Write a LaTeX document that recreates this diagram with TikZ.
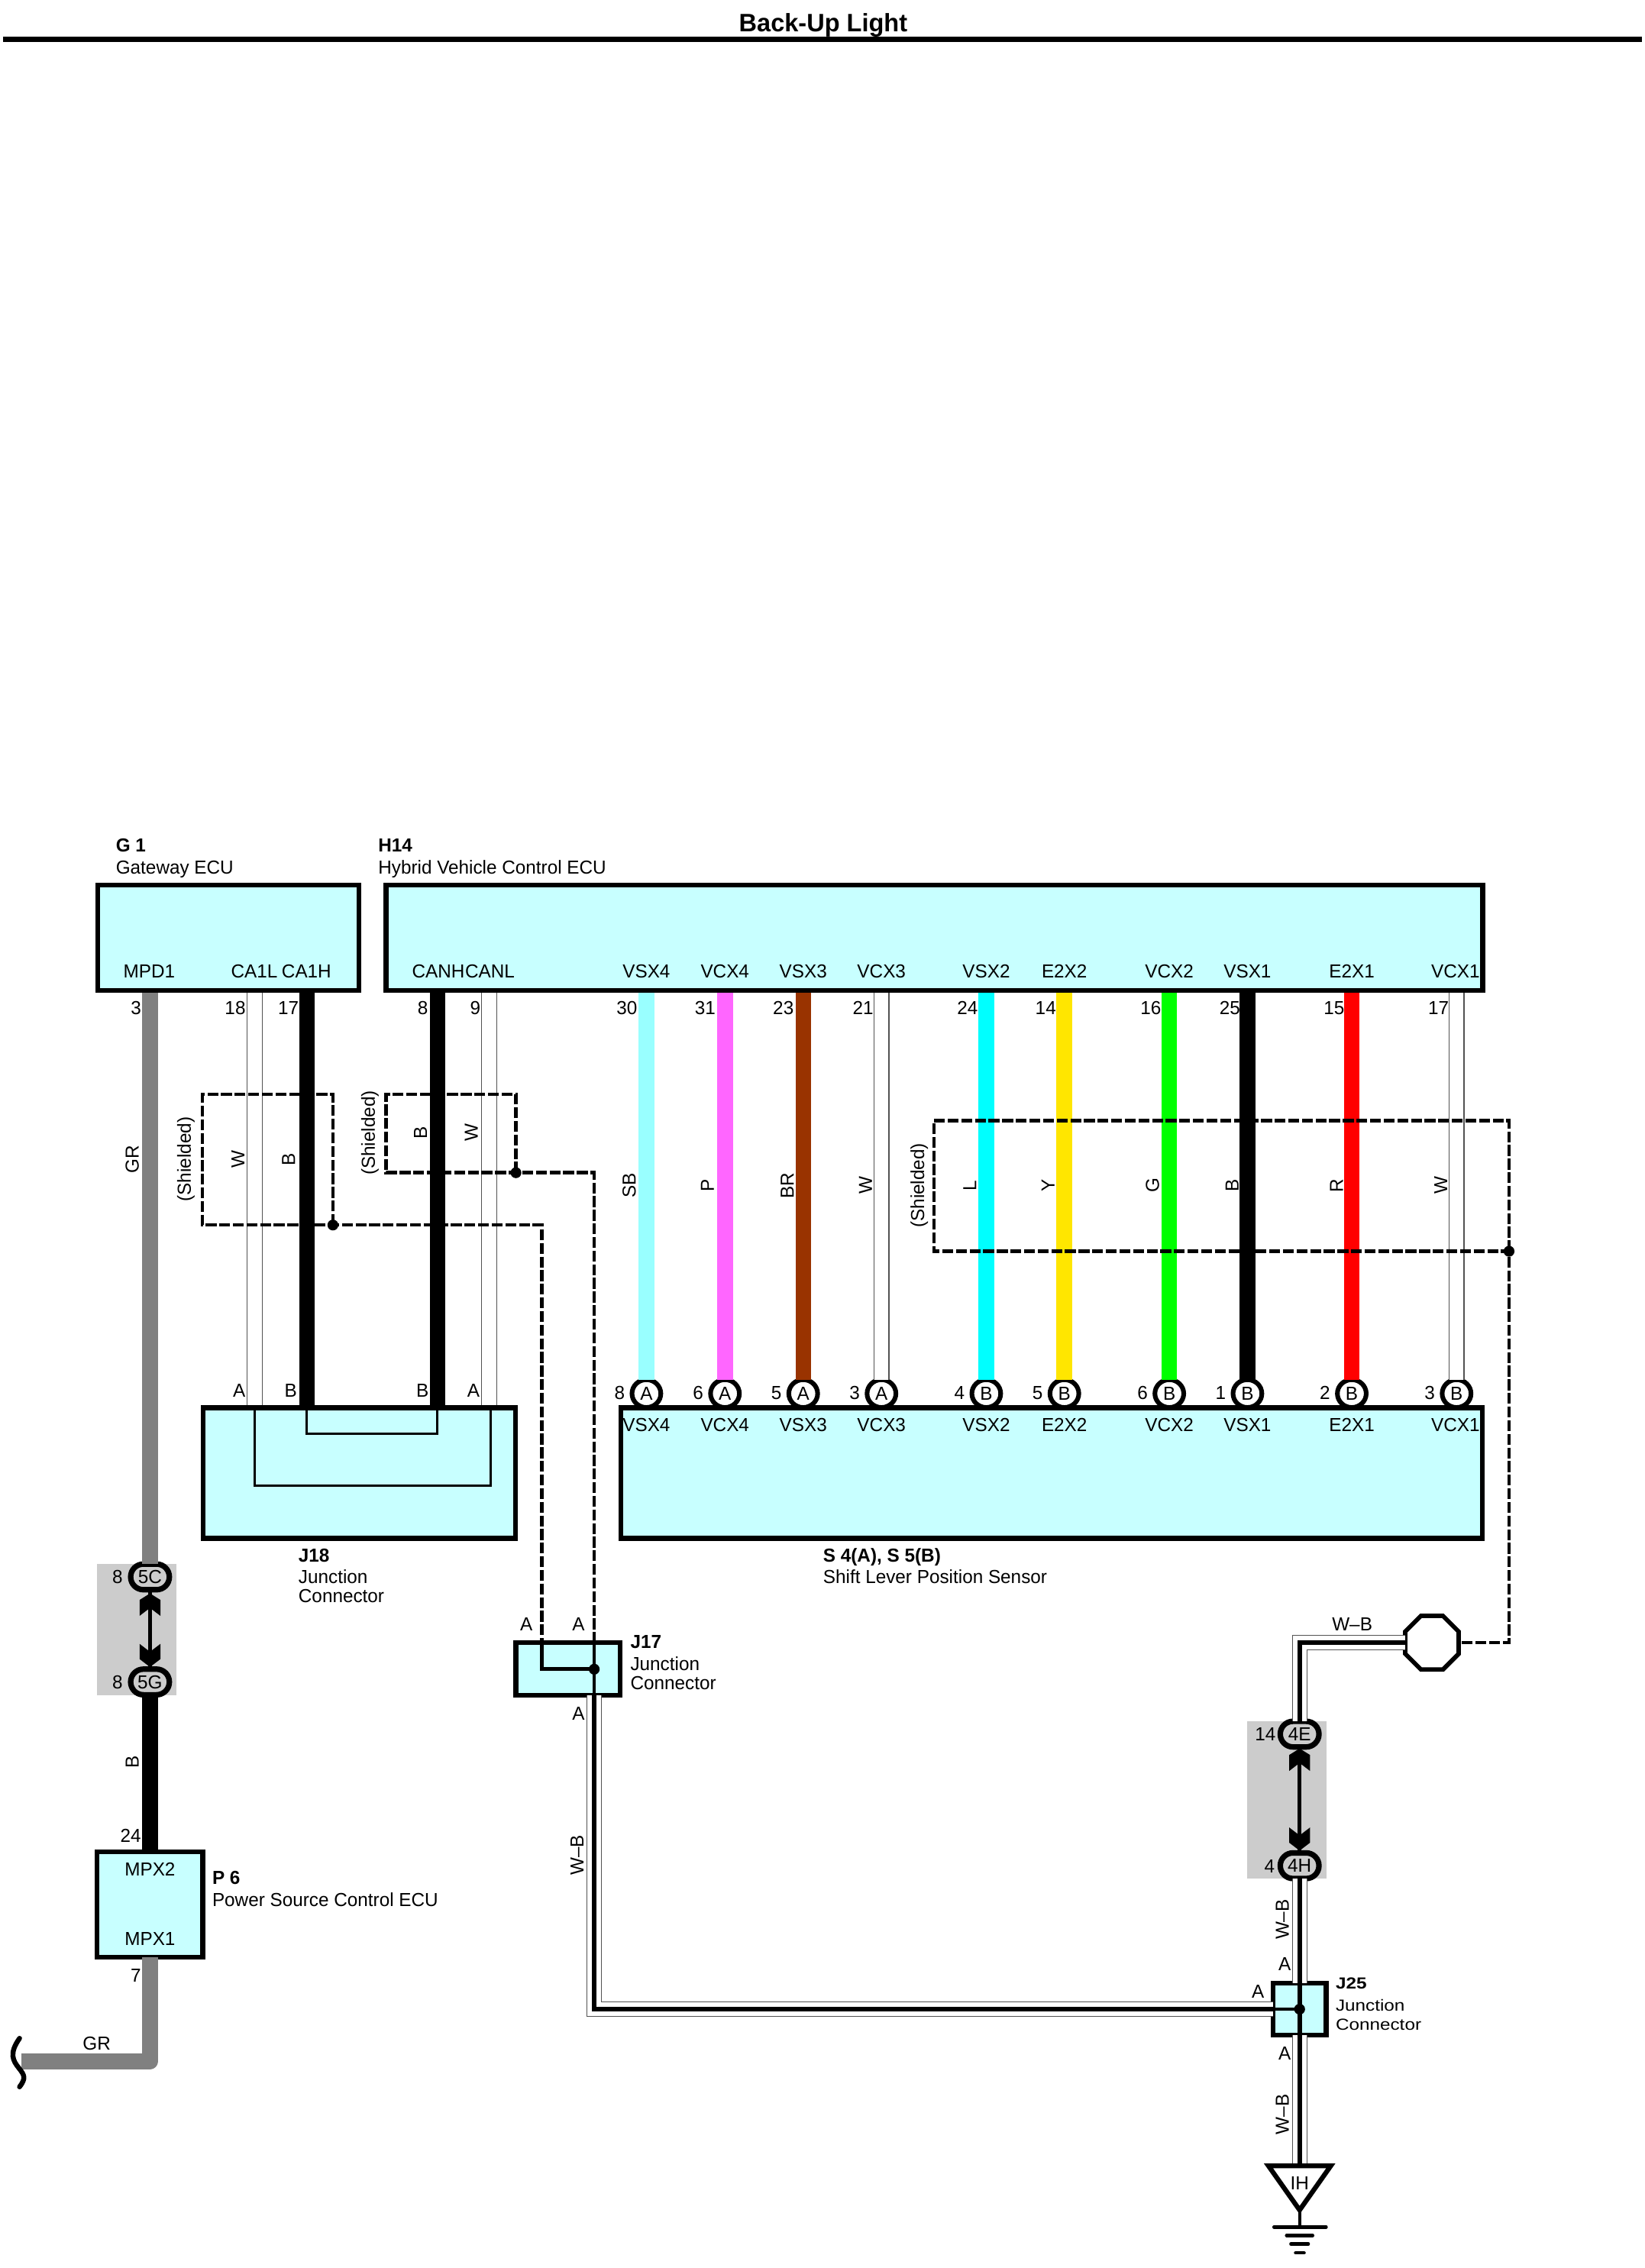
\documentclass[tikz,border=0pt]{standalone}
\usepackage{fontspec}
\usepackage{graphicx}
\setmainfont[FakeStretch=0.985]{Liberation Sans}
\usetikzlibrary{shapes.geometric}
\definecolor{jfill}{HTML}{C8FFFF}
\definecolor{wgr}{HTML}{808080}
\definecolor{wsb}{HTML}{99FFFF}
\definecolor{wp}{HTML}{FF66FF}
\definecolor{wbr}{HTML}{993300}
\definecolor{wl}{HTML}{00FFFF}
\definecolor{wy}{HTML}{FFE600}
\definecolor{wg}{HTML}{00FF00}
\definecolor{wr}{HTML}{FF0000}
\definecolor{bgzone}{HTML}{CCCCCC}
\tikzset{
 lbl/.style={inner sep=0,outer sep=0,text height=9.3pt,text depth=3.6pt,font=\fontsize{13}{13}\selectfont},
 lblv/.style={lbl,text depth=0pt,rotate=90},
 lbll/.style={lbl,anchor=west},
 lblb/.style={lbl,anchor=west,font=\fontsize{13}{13}\selectfont\bfseries},
 box/.style={rectangle,draw,fill=jfill,line width=3.3pt,inner sep=0,outer sep=0},
 zone/.style={rectangle,fill=bgzone,inner sep=0,outer sep=0},
 wire/.style={line width=10.8pt},
 twire/.style={draw=black!68,double=white,double distance=9.6pt,line width=.7pt},
 wb/.style={preaction={draw=black!68,line width=10.7pt},preaction={draw=white,line width=9.3pt},draw=black,line width=3pt},
 shield/.style={line width=2.4pt,dash pattern=on 7.5pt off 1.9pt},
 jdot/.style={circle,fill=black,inner sep=0,outer sep=0,minimum size=7.5pt},
 conn/.style={rectangle,rounded corners=8.8pt,draw,fill=bgzone,line width=3.8pt,inner sep=0,outer sep=0,minimum width=26.7pt,minimum height=17.7pt,font=\fontsize{13}{13}\selectfont},
 sconn/.style={ellipse,draw,fill=white,line width=3.2pt,inner sep=0,outer sep=0,minimum width=19.9pt,minimum height=19.2pt,font=\fontsize{13}{13}\selectfont},
}
\newcommand{\chevup}[2]{\fill[shift={(#1,#2)}] (0,0)--(7.2,4.5)--(7.2,15.5)--(0,10)--(-7.2,15.5)--(-7.2,4.5)--cycle;}
\newcommand{\chevdn}[2]{\fill[shift={(#1,#2)}] (0,0)--(7.2,-5.5)--(7.2,-16)--(0,-10.5)--(-7.2,-16)--(-7.2,-5.5)--cycle;}
\newcommand{\squat}[1]{\scalebox{1}[0.85]{#1}}
\begin{document}
\begin{tikzpicture}[x=1pt,y=-1pt]
\useasboundingbox (0,0) rectangle (1135,1565);
% title
\node[lbl,font=\fontsize{17.4}{17.4}\selectfont\bfseries,text height=12pt] (title) at (568,17.6) {Back-Up Light};
\coordinate (ruleL) at (2,27.2);
\coordinate (ruleR) at (1133,27.2);
\draw[line width=3.5pt] (ruleL) -- (ruleR);
% zones
\node[zone,minimum width=54.4pt,minimum height=90.5pt] (zoneA) at (94.3,1124.5) {};
\node[zone,minimum width=54.8pt,minimum height=109pt] (zoneB) at (888.1,1242) {};
% pin coordinates on G1 / H14
\coordinate (gMPD) at (103.5,683.4);
\coordinate (gCAL) at (175.7,683.4);
\coordinate (gCAH) at (211.8,683.4);
\coordinate (hCANH) at (301.8,683.4);
\coordinate (hCANL) at (337.5,683.4);
\coordinate (jCAL) at (175.7,971);
\coordinate (jCAH) at (211.8,971);
\coordinate (jCANH) at (301.8,971);
\coordinate (jCANL) at (337.5,971);
% connectors
\node[conn] (c5C) at (103.5,1088.1) {5C};
\node[conn] (c5G) at (103.5,1160.6) {5G};
\node[conn] (c4E) at (896.7,1196.6) {4E};
\node[conn] (c4H) at (896.7,1287.4) {4H};
% sensor connectors
\foreach \n/\x/\l/\p in {a/446/A/8,b/500.2/A/6,c/554.2/A/5,d/608.2/A/3,e/680.5/B/4,f/734.4/B/5,g/806.8/B/6,h/860.7/B/1,i/932.7/B/2,j/1005/B/3}{
  \node[sconn] (s\n) at (\x,961.6) {\l};
  \node[lbl] (pin\n) at (\x-18.5,962.9) {\p};
}
% sensor wires
\foreach \n/\x/\c in {a/446/wsb,b/500.2/wp,c/554.2/wbr,e/680.5/wl,f/734.4/wy,g/806.8/wg,h/860.7/black,i/932.7/wr}{
  \coordinate (top\n) at (\x,683.4);
  \draw[wire,draw=\c] (top\n) -- (s\n.north);
}
\foreach \n/\x in {d/608.2,j/1005}{
  \coordinate (top\n) at (\x,683.4);
  \draw[twire] (top\n) -- (s\n.north);
}
% left wires
\draw[wire,draw=wgr] (gMPD) -- (c5C.north);
\draw[twire] (gCAL) -- (jCAL);
\draw[wire] (gCAH) -- (jCAH);
\draw[wire] (hCANH) -- (jCANH);
\draw[twire] (hCANL) -- (jCANL);
% boxes
\node[box,minimum width=180.3pt,minimum height=72.7pt] (g1) at (157.65,647.05) {};
\node[box,minimum width=756.7pt,minimum height=72.7pt] (h14) at (644.65,647.05) {};
\node[box,minimum width=215.6pt,minimum height=90.1pt] (j18) at (247.8,1016.45) {};
\node[box,minimum width=594.4pt,minimum height=90.1pt] (s4) at (725.7,1016.45) {};
\node[box,line width=3.3pt,minimum width=71.8pt,minimum height=36pt] (j17) at (391.9,1151.6) {};
\node[box,line width=3.4pt,minimum width=36.5pt,minimum height=35.7pt] (j25) at (896.7,1386.4) {};
\node[box,minimum width=72.8pt,minimum height=72.5pt] (p6) at (103.5,1314.2) {};
% J18 inner loops
\draw[line width=1.6pt] (jCAL) -- (175.7,1025) -- (338.3,1025) -- (338.3,971);
\draw[line width=1.6pt] (jCAH) -- (211.8,989.3) -- (301.8,989.3) -- (jCANH);
% arrows between connectors
\draw[line width=2.6pt] (c5C.south) -- (c5G.north);
\chevup{103.5}{1099.5}
\chevdn{103.5}{1150.3}
\draw[line width=2.6pt] (c4E.south) -- (c4H.north);
\chevup{896.7}{1206.5}
\chevdn{896.7}{1277}
% P6 wires
\draw[wire] (c5G.south) -- (p6.north);
\coordinate (brk) at (15,1422.4);
\coordinate (bend) at (103.5,1422.4);
\draw[wire,draw=wgr,line join=round] (p6.south) -- (bend) -- (brk);
\draw[line width=3.4pt,line cap=round] (13.5,1406.5) .. controls (6,1417) and (9,1422) .. (13,1427) .. controls (17,1432) and (18,1434) .. (13.5,1440);
% W-B harness
\node[regular polygon,regular polygon sides=8,draw,fill=white,line width=3pt,inner sep=0,outer sep=0,minimum size=40pt] (oct) at (988,1133.5) {};
\coordinate (wbcorner) at (896.7,1133.5);
\draw[wb] (oct.west) -- (wbcorner) -- (c4E.north);
\draw[wb] (c4H.south) -- (j25.north);
\coordinate (gnd) at (896.7,1494.5);
\draw[wb] (j25.south) -- (gnd);
\coordinate (j17low) at (410,1169.6);
\coordinate (j17bend) at (410,1386.4);
\draw[wb] (j17low) -- (j17bend) -- (j25.west);
% inside J25
\draw[line width=3pt] (j25.north) -- (j25.south);
\draw[line width=2.2pt] (j25.west) -- (j25.center);
\node[jdot] (d25) at (j25.center) {};
% ground
\coordinate (apex) at (896.7,1525);
\draw[line width=3.3pt,fill=white,line join=miter] (875.2,1494.5) -- (918.2,1494.5) -- (apex) -- cycle;
\coordinate (bar) at (896.7,1536.7);
\draw[line width=2.1pt] (apex) -- (bar);
\draw[line width=2.3pt,line cap=round] (879,1536.7) -- (915,1536.7);
\draw[line width=2.3pt,line cap=round] (887.7,1542.5) -- (905.7,1542.5);
\draw[line width=2.3pt,line cap=round] (890.7,1548.4) -- (902.7,1548.4);
\draw[line width=2.3pt,line cap=round] (893.9,1554.6) -- (899.8,1554.6);
\node[lbl] (ih) at (896.7,1507.9) {IH};
% shields
\node[jdot] (d1) at (229.7,845.3) {};
\node[jdot] (d2) at (356,809.2) {};
\node[jdot] (d3) at (1041.2,863.4) {};
\coordinate (j17a) at (373.9,1133.6);
\coordinate (j17b) at (410,1133.6);
\coordinate (sh3c) at (1041.2,1133.5);
\draw[shield] (d1.center) -- (229.7,755.2) -- (139.6,755.2) -- (139.6,845.3) -- (d1.center) -- (373.9,845.3) -- (j17a);
\draw[shield] (d2.center) -- (356,755.2) -- (266.5,755.2) -- (266.5,809.2) -- (d2.center) -- (410,809.2) -- (j17b);
\draw[shield] (d3.center) -- (1041.2,773.2) -- (644.5,773.2) -- (644.5,863.4) -- (d3.center) -- (sh3c) -- (oct.east);
% inside J17
\node[jdot] (d17) at (410,1151.8) {};
\draw[line width=2.5pt] (j17a) -- (373.9,1151.8) -- (d17.center);
\draw[line width=2.4pt] (j17b) -- (j17low);
% component labels
\node[lblb] (tg1) at (80,585) {G 1};
\node[lbll] (tg1b) at (80,600) {Gateway ECU};
\node[lblb] (th14) at (261,585) {H14};
\node[lbll] (th14b) at (261,600) {Hybrid Vehicle Control ECU};
\node[lblb] (tj18) at (206,1075) {J18};
\node[lbll] (tj18b) at (206,1090) {Junction};
\node[lbll] (tj18c) at (206,1103) {Connector};
\node[lblb] (ts4) at (568,1075) {S 4(A), S 5(B)};
\node[lbll] (ts4b) at (568,1090) {Shift Lever Position Sensor};
\node[lblb] (tj17) at (435,1134.7) {J17};
\node[lbll] (tj17b) at (435,1150) {Junction};
\node[lbll] (tj17c) at (435,1162.8) {Connector};
\node[lblb] (tj25) at (921.6,1369.3) {\squat{J25}};
\node[lbll] (tj25b) at (921.6,1384.6) {\squat{Junction}};
\node[lbll] (tj25c) at (921.6,1397.8) {\squat{Connector}};
\node[lblb] (tp6) at (146.5,1297.2) {P 6};
\node[lbll] (tp6b) at (146.5,1312.4) {Power Source Control ECU};
\node[lbl] (mpx2) at (103.5,1291.3) {MPX2};
\node[lbl] (mpx1) at (103.5,1339.3) {MPX1};
% terminal names
\foreach \t/\x in {MPD1/103,CA1L/175.5,CA1H/211.5,CANH/302.5,CANL/338,VSX4/446,VCX4/500.2,VSX3/554.2,VCX3/608.2,VSX2/680.5,E2X2/734.4,VCX2/806.8,VSX1/860.7,E2X1/932.7,VCX1/1004.3}{
  \node[lbl] at (\x,672) {\t};
}
\foreach \t/\x in {VSX4/446,VCX4/500.2,VSX3/554.2,VCX3/608.2,VSX2/680.5,E2X2/734.4,VCX2/806.8,VSX1/860.7,E2X1/932.7,VCX1/1004.3}{
  \node[lbl] at (\x,984.7) {\t};
}
% pin numbers
\foreach \t/\x in {3/93.8,18/162.3,17/199,8/291.7,9/328,30/432.6,31/486.5,23/540.5,21/595.5,24/667.5,14/721.5,16/794,25/848.5,15/920.5,17/992.5}{
  \node[lbl] at (\x,697) {\t};
}
\node[lbl] at (81.1,1089.9) {8};
\node[lbl] at (81.1,1162.4) {8};
\node[lbl] at (90.2,1268.2) {24};
\node[lbl] at (93.7,1364.8) {7};
\node[lbl] at (873,1198.4) {14};
\node[lbl] at (876,1289.2) {4};
% letters
\node[lbl] at (165,961) {A};
\node[lbl] at (200.6,961) {B};
\node[lbl] at (291.5,961) {B};
\node[lbl] at (326.7,961) {A};
\node[lbl] at (363.2,1122.4) {A};
\node[lbl] at (399.2,1122.4) {A};
\node[lbl] at (399.2,1184.2) {A};
\node[lbl] at (886.4,1357) {A};
\node[lbl] at (868,1375.6) {A};
\node[lbl] at (886.4,1418.8) {A};
% wire colours
\foreach \t/\x/\y in {GR/91/800,(Shielded)/127/800,W/164/800,B/199/800,(Shielded)/254/781.7,B/290/781.7,W/325/781.7,SB/434/818,P/488/818,BR/543/818,W/597/818,(Shielded)/633/818,L/669/818,Y/723/818,G/795/818,B/850/818,R/922/818,W/994/818,B/91/1216,W–B/398/1280,W–B/884.6/1324.5,W–B/884.6/1459}{
  \node[lblv] at (\x,\y) {\t};
}
\node[lbl] at (66.7,1411.8) {GR};
\node[lbl] at (933,1122.2) {W–B};
\end{tikzpicture}
\end{document}
